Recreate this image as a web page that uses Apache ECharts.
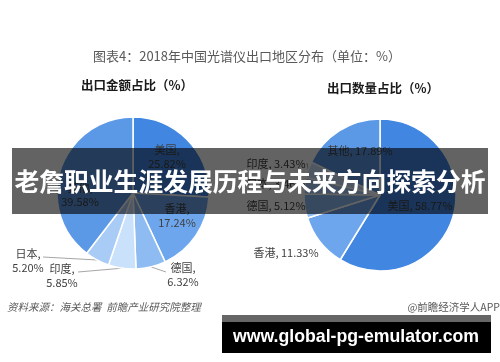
<!DOCTYPE html>
<html><head><meta charset="utf-8">
<script src="https://cdn.jsdelivr.net/npm/echarts@6/dist/echarts.min.js"></script>
<style>html,body{margin:0;padding:0;background:#fff}#c{width:500px;height:362px}</style>
</head><body><div id="c"></div>
<script>
// ---- data ----
const valueCategories = ['美国', '香港', '德国', '印度', '日本', '其他'];
const valueShares = [25.82, 17.24, 6.32, 5.85, 5.20, 39.58];
const qtyCategories = ['美国', '香港', '德国', '日本', '印度', '其他'];
const qtyShares = [58.77, 11.33, 5.12, 3.46, 3.43, 17.89];
const chartTitle = '图表4：2018年中国光谱仪出口地区分布（单位：%）';
const leftTitle = '出口金额占比（%）';
const rightTitle = '出口数量占比（%）';
const sourceText = '资料来源：海关总署  前瞻产业研究院整理';
const creditText = '@前瞻经济学人APP';
const bannerText = '老詹职业生涯发展历程与未来方向探索分析';
const urlText = 'www.global-pg-emulator.com';

// ---- styling ----
const colorOf = {'美国':'#4187e2','香港':'#6ea6ee','德国':'#8dbbf2','印度':'#cae1fb','日本':'#a8ccf6','其他':'#5b99e6'};
const FONT = '"Noto Sans CJK SC", "Noto Sans", sans-serif';
const leftLabelPos = {'美国':[167,157],'香港':[177,216],'德国':[183,275],'印度':[62,276],'日本':[28,261],'其他':[80,195]};
const leftLineEnd = {'德国':[166,272],'印度':[78,272],'日本':[43,257]};
const rightLabelPos = {'美国':[420,206],'香港':[286,253],'德国':[276,206],'日本':[276,184],'印度':[276,164],'其他':[360,151]};
const rightLineEnd = {'印度':[307,163]};

function buildData(cats, vals, lineEnds) {
  return cats.map((c, i) => ({
    name: c, value: vals[i],
    itemStyle: {color: colorOf[c]},
    labelLine: {show: !!lineEnds[c]}
  }));
}
function makeLayout(cats, posMap, lineEnds) {
  return function (params) {
    const c = cats[params.dataIndex];
    const p = posMap[c];
    const out = {x: p[0], y: p[1], align: 'center', verticalAlign: 'middle'};
    if (lineEnds[c] && params.labelLinePoints) {
      out.labelLinePoints = [params.labelLinePoints[0], lineEnds[c], lineEnds[c]];
    }
    return out;
  };
}
const baseLabel = {show: true, position: 'outside', color: '#404040', fontSize: 11, fontFamily: FONT, lineHeight: 14};

const chart = echarts.init(document.getElementById('c'), null, {renderer: 'canvas'});
chart.setOption({
  backgroundColor: '#fff',
  animation: false,
  series: [
    {
      type: 'pie', center: [133, 193], radius: 76, startAngle: 90, clockwise: true,
      avoidLabelOverlap: false,
      data: buildData(valueCategories, valueShares, leftLineEnd),
      itemStyle: {borderColor: '#fff', borderWidth: 1.5},
      label: Object.assign({}, baseLabel, {formatter: p => p.name + ',\n' + Number(p.value).toFixed(2) + '%'}),
      labelLine: {lineStyle: {color: '#a6a6a6', width: 1}},
      labelLayout: makeLayout(valueCategories, leftLabelPos, leftLineEnd),
      emphasis: {disabled: true}
    },
    {
      type: 'pie', center: [380, 195], radius: 76, startAngle: 90, clockwise: true,
      avoidLabelOverlap: false,
      data: buildData(qtyCategories, qtyShares, rightLineEnd),
      itemStyle: {borderColor: '#fff', borderWidth: 1.5},
      label: Object.assign({}, baseLabel, {formatter: p => p.name + ', ' + Number(p.value).toFixed(2) + '%'}),
      labelLine: {lineStyle: {color: '#a6a6a6', width: 1}},
      labelLayout: makeLayout(qtyCategories, rightLabelPos, rightLineEnd),
      emphasis: {disabled: true}
    }
  ],
  graphic: [
    {type: 'text', x: 247, y: 56, z: 10, style: {text: chartTitle, fill: '#595959', font: '13px ' + FONT, textAlign: 'center', textVerticalAlign: 'middle'}},
    {type: 'text', x: 137, y: 85, z: 10, style: {text: leftTitle, fill: '#1a1a1a', font: 'bold 12.5px ' + FONT, textAlign: 'center', textVerticalAlign: 'middle'}},
    {type: 'text', x: 383, y: 88, z: 10, style: {text: rightTitle, fill: '#1a1a1a', font: 'bold 12.5px ' + FONT, textAlign: 'center', textVerticalAlign: 'middle'}},
    {type: 'text', x: 7, y: 307, z: 10, style: {text: sourceText, fill: '#595959', font: 'italic 10.5px ' + FONT, textAlign: 'left', textVerticalAlign: 'middle'}},
    {type: 'text', x: 500, y: 307, z: 10, style: {text: creditText, fill: '#595959', font: '10.5px ' + FONT, textAlign: 'right', textVerticalAlign: 'middle'}},
    {type: 'rect', z: 100, shape: {x: 12, y: 148, width: 476, height: 66}, style: {fill: 'rgba(0,0,0,0.61)'}},
    {type: 'text', x: 250, y: 182, z: 101, style: {text: bannerText, fill: '#fff', font: 'bold 24.8px ' + FONT, textAlign: 'center', textVerticalAlign: 'middle'}},
    {type: 'rect', z: 100, shape: {x: 222, y: 315, width: 269, height: 7}, style: {fill: '#666'}},
    {type: 'rect', z: 100, shape: {x: 222, y: 322, width: 269, height: 31}, style: {fill: '#000'}},
    {type: 'text', x: 356, y: 337, z: 101, style: {text: urlText, fill: '#fff', font: 'bold 17.7px "Liberation Sans", Arial, sans-serif', textAlign: 'center', textVerticalAlign: 'middle'}}
  ]
});
</script>
</body></html>
